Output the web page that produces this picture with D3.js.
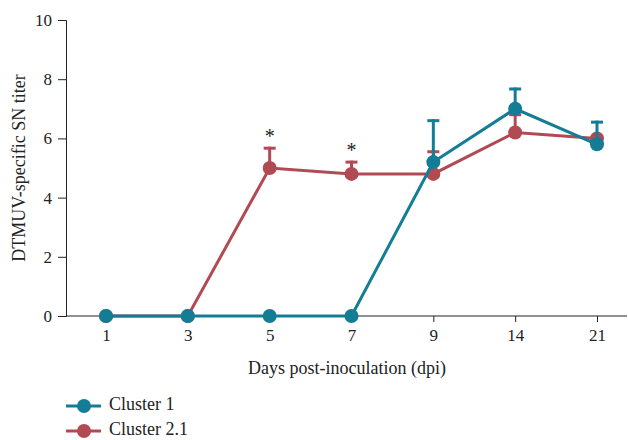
<!DOCTYPE html>
<html>
<head>
<meta charset="utf-8">
<script src="https://cdn.jsdelivr.net/npm/d3@7"></script>
<style>
  body { margin: 0; background: #fff; }
  svg text { font-family: "Liberation Serif", "DejaVu Serif", serif; fill: #222; }
</style>
</head>
<body>
<div id="chart"></div>
<script>
const days = ["1", "3", "5", "7", "9", "14", "21"];
const cluster1 = [0, 0, 0, 0, 5.2, 7.0, 5.8];
const cluster1Err = [0, 0, 0, 0, 1.45, 0.72, 0.8];
const cluster21 = [0, 0, 5.0, 4.8, 4.8, 6.2, 6.0];
const cluster21Err = [0, 0, 0.72, 0.45, 0.8, 0.65, 0];
const stars = [null, null, "*", "*", null, null, null];
const yTicks = [0, 2, 4, 6, 8, 10];

const font = "'Liberation Serif', 'DejaVu Serif', serif";
const teal = "#137d95";
const red = "#b24a53";

const series = [
    { name: "Cluster 2.1", values: cluster21, err: cluster21Err, colour: red },
    { name: "Cluster 1", values: cluster1, err: cluster1Err, colour: teal },
];

const width = 628, height = 440;
const svg = d3.select("#chart").append("svg")
    .attr("width", width)
    .attr("height", height)
    .attr("font-family", font);

const x = d3.scalePoint()
    .domain(days)
    .range([106, 597]);

const y = d3.scaleLinear()
    .domain([0, 10])
    .range([316, 20]);

// y axis
const yAxis = svg.append("g")
    .attr("transform", "translate(66,0)")
    .call(d3.axisLeft(y).tickValues(yTicks).tickSize(8).tickPadding(6));
yAxis.attr("font-family", font).attr("font-size", 17);

// x axis (line runs to the right edge)
svg.append("line")
    .attr("x1", 66).attr("x2", 627)
    .attr("y1", y(0)).attr("y2", y(0))
    .attr("stroke", "#222").attr("stroke-width", 1);
const xAxis = svg.append("g")
    .attr("transform", `translate(0,${y(0)})`)
    .call(d3.axisBottom(x).tickSize(6).tickPadding(7));
xAxis.select(".domain").remove();
xAxis.attr("font-family", font).attr("font-size", 17);
svg.selectAll(".tick line").attr("stroke", "#222");
svg.selectAll(".domain").attr("stroke", "#222");

const line = d3.line()
    .x((d, i) => x(days[i]))
    .y(d => y(d));

series.forEach(s => {
    const g = svg.append("g");
    // upper error bars
    s.err.forEach((e, i) => {
        if (!e) return;
        const cx = x(days[i]);
        g.append("line")
            .attr("x1", cx).attr("x2", cx)
            .attr("y1", y(s.values[i])).attr("y2", y(s.values[i] + e))
            .attr("stroke", s.colour).attr("stroke-width", 3);
        g.append("line")
            .attr("x1", cx - 6).attr("x2", cx + 6)
            .attr("y1", y(s.values[i] + e) + 1.5).attr("y2", y(s.values[i] + e) + 1.5)
            .attr("stroke", s.colour).attr("stroke-width", 3);
    });
    g.append("path")
        .datum(s.values)
        .attr("fill", "none")
        .attr("stroke", s.colour)
        .attr("stroke-width", 3)
        .attr("d", line);
    g.selectAll("circle")
        .data(s.values)
        .enter()
        .append("circle")
        .attr("cx", (d, i) => x(days[i]))
        .attr("cy", d => y(d))
        .attr("r", 7)
        .attr("fill", s.colour);
});

// significance marks above cluster 2.1 error bars
stars.forEach((d, i) => {
    if (!d) return;
    svg.append("text")
        .attr("x", x(days[i]))
        .attr("y", y(cluster21[i] + cluster21Err[i]) - 4)
        .attr("text-anchor", "middle")
        .attr("font-size", 20)
        .text(d);
});

// axis labels
svg.append("text")
    .attr("x", 347)
    .attr("y", 374)
    .attr("text-anchor", "middle")
    .attr("font-size", 18)
    .text("Days post-inoculation (dpi)");

svg.append("text")
    .attr("transform", "rotate(-90)")
    .attr("x", -168)
    .attr("y", 25)
    .attr("text-anchor", "middle")
    .attr("font-size", 18)
    .text("DTMUV-specific SN titer");

// legend
const legendKeys = ["Cluster 1", "Cluster 2.1"];
const legendColours = [teal, red];
legendKeys.forEach((k, i) => {
    const ly = 406 + i * 25;
    svg.append("line")
        .attr("x1", 66).attr("x2", 101)
        .attr("y1", ly).attr("y2", ly)
        .attr("stroke", legendColours[i]).attr("stroke-width", 3);
    svg.append("circle")
        .attr("cx", 84).attr("cy", ly).attr("r", 7)
        .attr("fill", legendColours[i]);
    svg.append("text")
        .attr("x", 109).attr("y", ly + 4)
        .attr("font-size", 18)
        .text(k);
});
</script>
</body>
</html>
